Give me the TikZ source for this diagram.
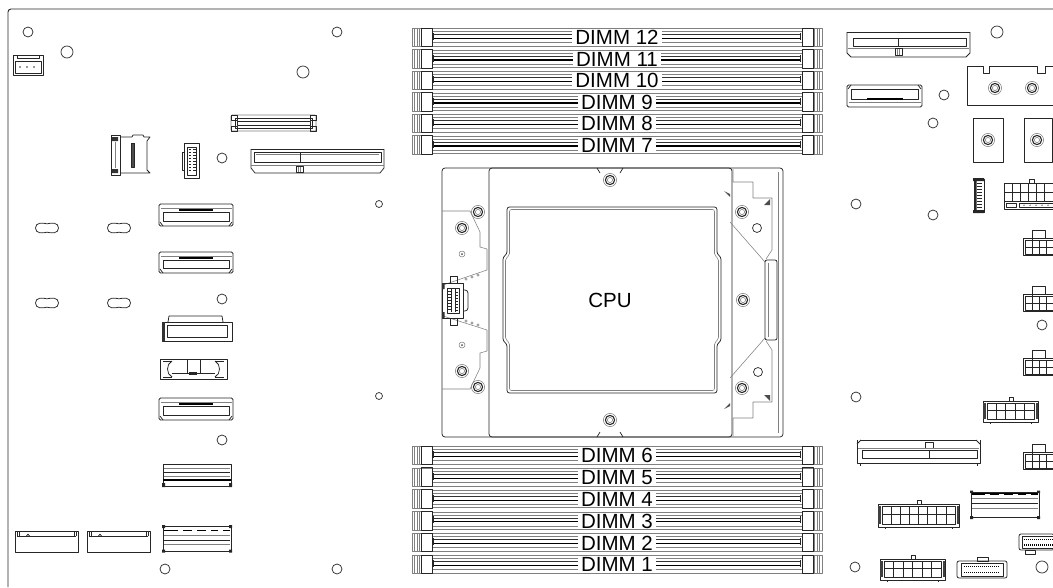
\documentclass[tikz,border=0pt]{standalone}
\usepackage{fontspec}
\setmainfont{Liberation Sans}
\tikzset{
 ln/.style={draw=black!85, line width=0.75pt},
 lg/.style={draw=black!50, line width=0.55pt},
 hole/.style={draw=black!80, line width=0.75pt},
 lbl/.style={fill=white, inner xsep=3.5pt, inner ysep=0pt, font=\fontsize{20.5}{20.5}\selectfont, text height=14.7pt, text depth=0pt, anchor=center},
}
\newcommand\holeC[3]{\draw[hole] (#1,#2) circle (#3);}
\newcommand\screwC[2]{%
  \draw[lg] (#1,#2) circle (6.6);
  \draw[ln, line width=1.1pt] (#1,#2) circle (4.6);
  \draw[lg] (#1,#2) circle (2.6);}
\newcommand\peanutC[2]{%
  \draw[ln] ({#1-11.5},#2) .. controls ({#1-11.5},{#2-5.5}) and ({#1-5},{#2-5.5}) .. (#1,{#2-4.2})
    .. controls ({#1+5},{#2-5.5}) and ({#1+11.5},{#2-5.5}) .. ({#1+11.5},#2)
    .. controls ({#1+11.5},{#2+5.5}) and ({#1+5},{#2+5.5}) .. (#1,{#2+4.2})
    .. controls ({#1-5},{#2+5.5}) and ({#1-11.5},{#2+5.5}) .. ({#1-11.5},#2) -- cycle;}
\newcommand\dimmslot[2]{%
 \begin{scope}[shift={(0,#1)}]
  \draw[lg] (432,0.5) -- (802,0.5) (432,3.5) -- (802,3.5) (432,14.5) -- (802,14.5) (432,18) -- (802,18);
  \draw[black!80, line width=0.5pt] (434,6.5) -- (800,6.5);
  \draw[black, line width=1.1pt] (434,10.5) -- (800,10.5);
  \draw[ln] (433.5,5) -- (433.5,12) (800.5,5) -- (800.5,12);
  \draw[lg] (412,0) rectangle (432,18.5) (414.5,0) -- (414.5,18.5) (417,0) -- (417,18.5) (419.5,0) -- (419.5,18.5);
  \draw[ln] (421,0) rectangle (432,18.5);
  \draw[lg] (802,0) rectangle (822,18.5) (819.5,0) -- (819.5,18.5) (817,0) -- (817,18.5) (814.5,0) -- (814.5,18.5);
  \draw[ln] (802,0) rectangle (813,18.5);
  \node[lbl] (dimm#2) at (617,9.5) {DIMM #2};
 \end{scope}}
\newcommand\multipin[6]{%
 \draw[ln] ({#6-2},#2) rectangle ({#6+2},{#2+4});
 \draw[ln] (#1,{#2+4}) rectangle (#3,#4);
 \fill[black!75] (#1,{#2+6}) rectangle ({#1+2.5},{#4-3});
 \fill[black!75] ({#3-2.5},{#2+6}) rectangle (#3,{#4-3});
 \draw[ln] ({#1+4},{#2+6}) rectangle ({#3-4},{#4-3});
 \draw[ln] ({#1+4},{(#2+#4)/2+1}) -- ({#3-4},{(#2+#4)/2+1});
 \pgfmathsetmacro\mpcw{(#3-#1-8)/#5}
 \pgfmathtruncatemacro\mpn{#5-1}
 \foreach \i in {1,...,\mpn} {\draw[ln] ({#1+4+\i*\mpcw},{#2+6}) -- ({#1+4+\i*\mpcw},{#4-3});}
 \draw[ln] ({#1+7},#4) -- ({#1+7},{#4+1.5}) ({#3-7},#4) -- ({#3-7},{#4+1.5});}
\newcommand\sixpin[2]{%
 \draw[ln] ({#1+9},#2) rectangle ({#1+22},{#2+8});
 \draw[ln] (#1,{#2+8}) rectangle ({#1+31},{#2+25});
 \draw[ln] ({#1+2},{#2+10}) rectangle ({#1+31},{#2+24});
 \draw[ln] ({#1+2},{#2+17}) -- ({#1+31},{#2+17});
 \draw[ln] ({#1+9},{#2+8}) -- ({#1+9},{#2+24}) ({#1+16},{#2+10}) -- ({#1+16},{#2+24}) ({#1+23},{#2+10}) -- ({#1+23},{#2+24});}
\newcommand\slimconn[4]{% top-dark slim connector
 \draw[ln, rounded corners=1.5] (#1,#2) rectangle (#3,#4);
 \draw[lg] ({#1+1.5},{#2+4}) -- ({#3-1.5},{#2+4});
 \draw[black, line width=1.2pt] ({#1+20},{#2+6}) -- ({#3-20},{#2+6});
 \draw[ln] ({#1+4},{#2+8.5}) rectangle ({#3-4},{#4-5});
 \draw[ln] ({#1+1},{#4-4}) -- ({#1+4},#4) ({#3-1},{#4-4}) -- ({#3-4},#4);}
\begin{document}
\begin{tikzpicture}[x=1pt,y=-1pt,line join=round]
\useasboundingbox (0,0) rectangle (1053,587);
% board edge
\draw[ln, line width=0.9pt, rounded corners=3] (8,587) -- (8,9) -- (1053,9);

% ---------- DIMMs
\dimmslot{28}{12}
\dimmslot{49.5}{11}
\dimmslot{71}{10}
\dimmslot{92.5}{9}
\dimmslot{114}{8}
\dimmslot{135.5}{7}
\dimmslot{446}{6}
\dimmslot{467.8}{5}
\dimmslot{489.6}{4}
\dimmslot{511.4}{3}
\dimmslot{533.2}{2}
\dimmslot{555}{1}

% ---------- CPU socket
\draw[ln, rounded corners=3] (442,168) rectangle (783,437);
\draw[ln, rounded corners=3] (489,168) rectangle (732,437);
\draw[lg] (778,172) -- (778,433);
\draw[ln] (597,168) -- (600,173) (623,168) -- (620,173);
\draw[ln] (597,437) -- (600,432) (623,437) -- (620,432);
\draw[ln, rounded corners=2.5] (507,207) -- (717,207) -- (717,254) -- (721,257) -- (721,341) -- (717,344) -- (717,393) -- (507,393) -- (507,344) -- (503,341) -- (503,257) -- (507,254) -- cycle;
\draw[lg, rounded corners=2] (509.5,209.5) -- (714.5,209.5) -- (714.5,255.5) -- (718.5,258.5) -- (718.5,339.5) -- (714.5,342.5) -- (714.5,390.5) -- (509.5,390.5) -- (509.5,342.5) -- (505.5,339.5) -- (505.5,258.5) -- (509.5,255.5) -- cycle;
\node[lbl, fill=none] (cpu) at (610,300.5) {CPU};
% socket left side
\draw[lg] (442,211) -- (470,211) -- (480,232) -- (480,247) -- (487,249) -- (487,270) -- (443,285);
\draw[lg] (443,316) -- (487,330) -- (487,351) -- (480,353) -- (480,368) -- (470,389) -- (442,389);
\foreach \xx/\yy in {466/279,472/277,478/275,466/321,472/323,478/325} {\draw[lg] (\xx,\yy) circle (1.3);}
\draw[ln] (442,283) rectangle (463,318);
\draw[ln, rounded corners=3] (463,290) -- (468,290) -- (468,311) -- (463,311);
\draw[ln] (447,288) rectangle (459,313);
\draw[ln] (451,289) -- (451,312) (455,289) -- (455,312);
\foreach \yy in {291,294,...,311} {\draw[ln] (448,\yy) -- (451,\yy) (455,{\yy+1.5}) -- (458,{\yy+1.5});}
\draw[ln] (450,276) rectangle (457,283);
\draw[ln] (450,318) rectangle (457,325);
\fill[black!80] (442,283) rectangle (444.5,289) (442,312) rectangle (444.5,318);
\screwC{478}{212}
\screwC{462}{228}
\screwC{462}{371}
\screwC{478}{387}
\draw[lg] (462,254) circle (3); \fill[black!70] (462,254) circle (1);
\draw[lg] (462,345) circle (3); \fill[black!70] (462,345) circle (1);
% socket right side
\draw[lg] (733,169) -- (733,182) -- (753,182) -- (753,198) -- (772,198) -- (772,250) -- (766,259);
\draw[lg] (733,436) -- (733,418) -- (753,418) -- (753,402) -- (772,402) -- (772,350) -- (766,341);
\draw[lg] (730,222) -- (765,262);
\draw[lg] (730,378) -- (765,338);
\fill[black!70] (724,191) -- (730,194) -- (730,197) -- cycle;
\fill[black!70] (764,205) -- (770,199) -- (770,205) -- cycle;
\fill[black!70] (724,409) -- (730,406) -- (730,403) -- cycle;
\fill[black!70] (764,395) -- (770,401) -- (770,395) -- cycle;
\draw[ln, rounded corners=2] (765,260) rectangle (777,340);
\draw[lg] (768.5,263) -- (768.5,337);
\screwC{610}{180}
\screwC{610}{420}
\screwC{742}{212}
\screwC{743}{300}
\screwC{742}{388}
\holeC{757}{228}{4.5}
\holeC{758}{372}{4.5}

% ---------- mounting holes
\holeC{28}{32}{5}
\holeC{67}{52}{6}
\holeC{337}{32}{5}
\holeC{303}{72}{6}
\holeC{222}{158}{5}
\holeC{379}{204}{3.5}
\holeC{379}{396}{3.5}
\holeC{222}{299}{5}
\holeC{222}{440}{5}
\holeC{165}{569}{5}
\holeC{337}{569}{5}
\holeC{997}{32}{6}
\holeC{944}{95}{5}
\holeC{933}{123}{5}
\holeC{856}{204}{5}
\holeC{933}{215}{5}
\holeC{1042}{325}{5}
\holeC{856}{397}{5}
\holeC{855}{567}{5}
\holeC{1042}{567}{6}
\peanutC{47}{228}
\peanutC{119}{228}
\peanutC{47}{303}
\peanutC{119}{303}

% ---------- top-left parts
% 3-pin fan connector
\draw[ln] (13,55) rectangle (43,75);
\draw[ln] (15,61) rectangle (41,73);
\draw[ln] (17,55) -- (17,58.5) -- (39,58.5) -- (39,55);
\foreach \xx in {20,27,34} {\fill[black!80] (\xx,67) circle (0.9);}
% wide connector
\draw[lg, rounded corners=1] (231,115) rectangle (316,131);
\draw[ln] (231,115) rectangle (237,120) (231,126) rectangle (237,131) (310,115) rectangle (316,120) (310,126) rectangle (316,131);
\draw[ln] (235,118) rectangle (312,128);
\draw[ln] (237,121) rectangle (310,125);
% SD slot
\draw[ln] (111,135) rectangle (120,175);
\draw[lg] (115,142) -- (115,168);
\fill[black!80] (112,137) rectangle (118,141) (112,169) rectangle (118,173);
\draw[ln] (120,137) -- (132,137) -- (133,135) -- (143,135) -- (144,137) -- (150,137) -- (147,141) -- (147,170) -- (150,173) -- (120,173);
\draw[ln, fill=black!70] (131,143) rectangle (134.5,167);
% small vertical connector
\draw[ln] (184.5,143) rectangle (199.5,178);
\draw[ln] (184.5,152) -- (182,152) -- (182,170) -- (184.5,170);
\draw[ln] (187.5,147) rectangle (196.5,175);
\foreach \yy in {149.5,152.5,...,173} {\draw[ln] (188.5,\yy) -- (191,\yy) (193,\yy) -- (195.5,\yy);}
% long slot left
\draw[ln] (251,149) -- (384,149);
\draw[ln] (251,149) -- (251,168) -- (255,173) -- (380,173) -- (384,168) -- (384,149);
\draw[ln] (254,152) rectangle (381,162);
\draw[lg] (256,154) -- (379,154);
\draw[ln] (300,152) -- (300,162);
\draw[lg] (251,165) -- (384,165);
\draw[ln] (296,166) rectangle (303,172);
\draw[lg] (298.3,167) -- (298.3,172) (300.6,167) -- (300.6,172);

% ---------- left column
\slimconn{159}{204}{233}{226}
\slimconn{159}{252}{233}{273}
\slimconn{159}{398}{233}{420}
% C
\draw[ln] (168,322) -- (169,316) -- (222,316) -- (223,322);
\draw[ln] (162,322) rectangle (232,341);
\fill[black!80] (162,322) rectangle (164.5,341);
\draw[ln] (167,325) rectangle (227,337);
% D
\draw[ln] (160,359) rectangle (227,379);
\draw[ln] (172,361) .. controls (166,364) and (166,374) .. (172,377);
\draw[ln] (215,361) .. controls (221,364) and (221,374) .. (215,377);
\draw[ln] (163,361) -- (172,361) (163,377) -- (172,377) (215,361) -- (224,361) (215,377) -- (224,377);
\draw[ln] (172,373) -- (215,373);
\draw[ln] (187,359) rectangle (200,373);
\fill[black!85] (189,371.5) rectangle (197,375);
% F
\draw[ln] (163,464) rectangle (231,486);
\draw[lg] (164,468) -- (230,468);
\draw[ln] (164,472) -- (230,472);
\draw[lg] (164,476) -- (230,476);
\draw[black, line width=1.4pt] (163,480) -- (231,480);
\fill[black!85] (162,483) rectangle (165,487) (229,483) rectangle (232,487);

% ---------- bottom-left
\foreach \xo in {15,87} {
 \draw[ln] (\xo,531) rectangle ({\xo+63},552);
 \draw[ln] ({\xo+2},536) -- ({\xo+61},536);
 \draw[ln] ({\xo+2},531) -- ({\xo+2},536) ({\xo+4},531) -- ({\xo+4},536) ({\xo+59},531) -- ({\xo+59},536) ({\xo+61},531) -- ({\xo+61},536);
 \draw[ln] ({\xo+11.5},536) .. controls ({\xo+11.5},533.5) and ({\xo+14.5},533.5) .. ({\xo+14.5},536);
}
\draw[ln] (163,526) rectangle (231,551);
\draw[black, line width=1.6pt] (164,530.5) -- (230,530.5);
\foreach \xx in {178,192,206,218} {\draw[white, line width=0.6pt] (\xx,530.5) -- ({\xx+5},530.5);}
\draw[lg] (164,535) -- (230,535);
\draw[ln] (164,540) -- (230,540);
\draw[lg] (164,544) -- (230,544);
\fill[black!85] (162,525) rectangle (165,528) (229,525) rectangle (232,528) (162,549.5) rectangle (165,552.5) (229,549.5) rectangle (232,552.5);

% ---------- top-right
\draw[ln] (847,32) -- (970,32);
\draw[ln] (847,32) -- (847,53) -- (851,57) -- (966,57) -- (970,53) -- (970,32);
\draw[ln] (853,38) rectangle (966,46);
\draw[ln] (898,38) -- (898,46);
\draw[lg] (848,48) -- (969,48);
\draw[ln] (895,48) rectangle (902,55);
\draw[lg] (897.3,49) -- (897.3,55) (899.6,49) -- (899.6,55);
% slim flipped
\draw[ln, rounded corners=1.5] (847,85) rectangle (922,107);
\draw[ln] (851,89.5) rectangle (918,99);
\draw[black, line width=1.2pt] (867,99) -- (903,99);
\draw[lg] (848.5,102.5) -- (920.5,102.5);
\draw[ln] (848,89) -- (851,85) (921,89) -- (918,85);
% plate with screws
\draw[ln] (1053.5,66) -- (1045,66) -- (1045,73) -- (1037,73) -- (1037,66) -- (989,66) -- (989,73) -- (983,73) -- (983,66) -- (967,66) -- (967,105) -- (1053.5,105);
\screwC{995}{88}
\screwC{1032}{88}
\draw[ln] (973,118) rectangle (1003,162);
\draw[ln] (1024,118) rectangle (1052,162);
\screwC{988}{140}
\screwC{1037}{140}
% small dark vertical connector
\draw[ln] (974,179) rectangle (984,212);
\fill[black!85] (973,178) rectangle (984,181) (973,210) rectangle (984,213) (974,179) rectangle (976.5,212);
\foreach \yy in {183,186,...,207} {\draw[ln] (977,\yy) -- (982,\yy);}
% 8-pin
\draw[ln] (1029,179) rectangle (1034,183);
\draw[ln] (1004,183) rectangle (1053,209);
\draw[ln] (1004,192) -- (1053,192) (1004,201) -- (1053,201);
\foreach \xx in {1012,1020,1028,1036,1044} {\draw[ln] (\xx,183) -- (\xx,201);}
\draw[ln] (1006,203) rectangle (1016,207.5);
\draw[ln] (1019,203) rectangle (1053,207.5);
\foreach \xx in {1024,1030,1036,1042,1048} {\fill[black!80] (\xx,205.2) circle (0.7);}
% 6-pin
\sixpin{1023}{230}
\sixpin{1023}{286}
\sixpin{1023}{350}
\sixpin{1023}{444}
% multi-pin
\multipin{983}{397}{1038}{422}{5}{1011}
\multipin{878}{500}{959}{527}{8}{919}
\multipin{880}{555}{945}{580}{6}{913}
% long slot bottom right
\draw[ln] (857,440) -- (857,463) -- (980,463) -- (980,440);
\draw[ln] (861,440) -- (976,440);
\draw[ln] (857,444) -- (861,440) (980,444) -- (976,440);
\draw[ln] (925,442) rectangle (933,448);
\draw[lg] (858,448) -- (979,448);
\draw[ln] (862,450) rectangle (977,458);
\draw[ln] (929,450) -- (929,458);
\draw[ln] (860,463) -- (860,465.5) (977,463) -- (977,465.5);
% dark band connector right
\draw[ln] (971,492) rectangle (1039,517);
\draw[black, line width=1.6pt] (972,494) -- (1038,494);
\foreach \xx in {985,999,1013,1026} {\draw[white, line width=0.6pt] (\xx,494) -- ({\xx+5},494);}
\draw[lg] (972,498) -- (1038,498);
\draw[ln] (972,503) -- (1038,503);
\draw[lg] (972,508) -- (1038,508);
\fill[black!85] (970,490.5) rectangle (973,493) (1037,490.5) rectangle (1040,493) (970,516) rectangle (973,519) (1037,516) rectangle (1040,519);
% pin-row connectors
\draw[ln, rounded corners=2] (957,561) rectangle (1007,578);
\draw[ln] (977,557) rectangle (988,561);
\draw[ln] (961,563) rectangle (1003,576);
\draw[black, line width=1.3pt, dash pattern=on 1pt off 1pt] (964,566.5) -- (1000,566.5) (964,572.5) -- (1000,572.5);
\draw[ln, rounded corners=2] (1019,534) rectangle (1054,550);
\draw[ln] (1025,550) rectangle (1035,554);
\draw[ln] (1022,536) rectangle (1054,548);
\draw[black, line width=1.3pt, dash pattern=on 1pt off 1pt] (1024,539.5) -- (1053,539.5) (1024,545) -- (1053,545);
\end{tikzpicture}
\end{document}
